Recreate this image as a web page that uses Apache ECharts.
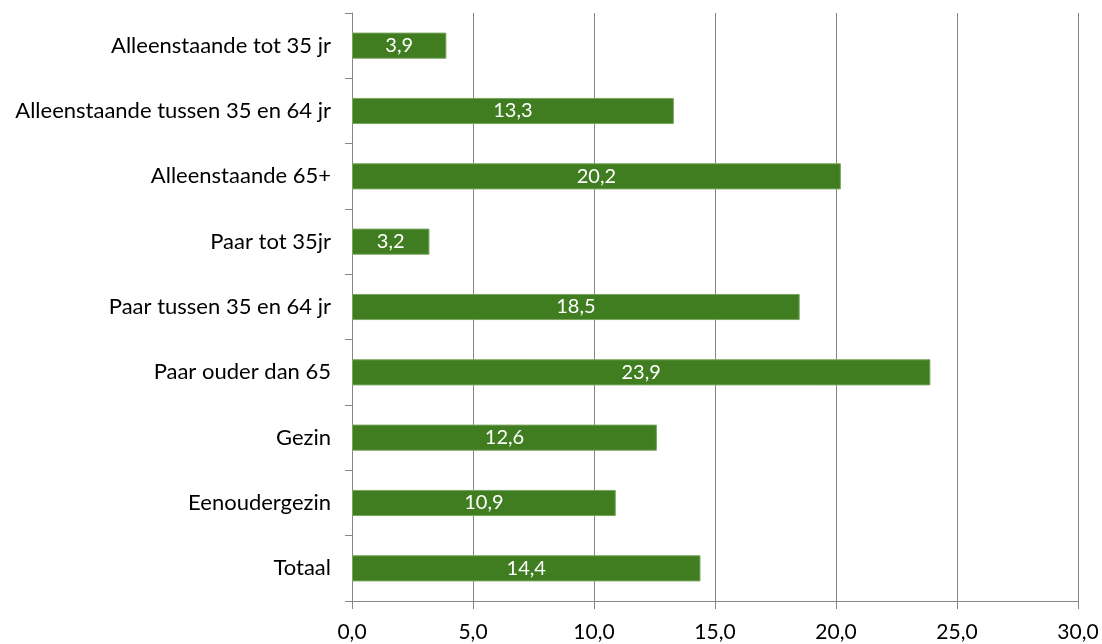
<!DOCTYPE html>
<html><head><meta charset="utf-8">
<script src="https://cdn.jsdelivr.net/npm/echarts@6/dist/echarts.min.js"></script>
<style>html,body{margin:0;padding:0;background:#fff}#c{width:1102px;height:644px}</style>
</head><body><div id="c"></div>
<script>
var categories = ["Alleenstaande tot 35 jr","Alleenstaande tussen 35 en 64 jr","Alleenstaande 65+","Paar tot 35jr","Paar tussen 35 en 64 jr","Paar ouder dan 65","Gezin","Eenoudergezin","Totaal"];
var values = [3.9,13.3,20.2,3.2,18.5,23.9,12.6,10.9,14.4];
var font = "Lato, 'Open Sans', 'Liberation Sans', sans-serif";
var chart = echarts.init(document.getElementById('c'), null, {renderer:'canvas'});
chart.setOption({
  animation:false,
  grid:{left:352,right:24,top:13,bottom:43,containLabel:false},
  xAxis:{type:'value',min:0,max:30,interval:5,
    axisLine:{show:true,lineStyle:{color:'#868686',width:1}},
    axisTick:{show:true,length:8,lineStyle:{color:'#868686'}},
    splitLine:{show:true,lineStyle:{color:'#868686',width:1}},
    axisLabel:{margin:21,color:'#000',fontSize:21,fontFamily:font,formatter:function(v){return v.toFixed(1).replace('.',',');}}
  },
  yAxis:{type:'category',data:categories,inverse:true,
    axisLine:{show:true,lineStyle:{color:'#868686',width:1}},
    axisTick:{show:true,length:7,inside:false,lineStyle:{color:'#868686'}},
    axisLabel:{margin:21,color:'#000',fontSize:22,fontFamily:font}
  },
  series:[{type:'bar',data:values,barWidth:'40%',
    itemStyle:{color:'#3f7d20',borderColor:'#79a65e',borderWidth:1},
    label:{show:true,position:'inside',color:'#fff',fontSize:20,fontFamily:font,formatter:function(p){return p.value.toFixed(1).replace('.',',');}}
  }]
});
</script></body></html>
